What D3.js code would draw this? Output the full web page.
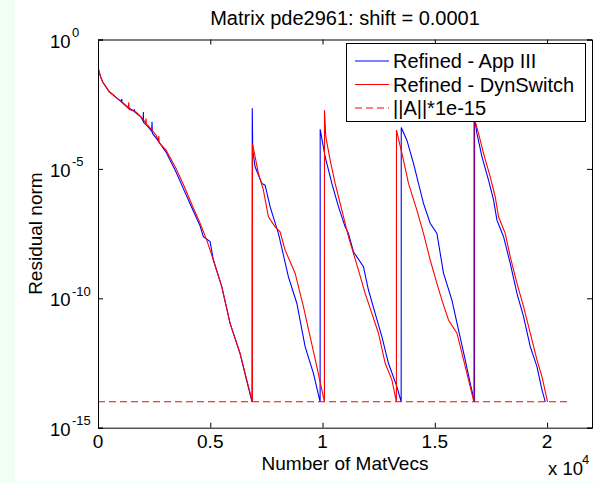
<!DOCTYPE html>
<html><head><meta charset="utf-8">
<script src="https://cdn.jsdelivr.net/npm/d3@7"></script>
<style>body{margin:0;padding:0;overflow:hidden}svg text{font-family:"Liberation Sans",Arial,Helvetica,sans-serif}</style>
</head><body>
<svg id="c" width="596" height="483"></svg>
<script>
// ---- data (x = number of MatVecs, y = log10 residual norm) ----
const titleText = "Matrix pde2961: shift = 0.0001";
const xLabel = "Number of MatVecs";
const yLabel = "Residual norm";
const legendLabels = ["Refined - App III", "Refined - DynSwitch", "||A||*1e-15"];
const xTicks = [0, 5000, 10000, 15000, 20000];
const xTickLabels = ["0", "0.5", "1", "1.5", "2"];
const yTickExps = [0, -5, -10, -15];

const appIII_x = [0,50,120,209,504,949,1040,1056,1075,1395,1600,1620,1640,1916,2010,2019,2030,2215,2390,2406,2420,2584,3030,3476,3846,4220,4545,4692,4991,5138,5512,5882,6328,6626,6860,
  6870,6890,6996,7294,7441,7664,8034,8480,8854,9224,9594,9892,
  9895,10115,10414,10708,11006,11153,11376,11822,12045,12343,12642,12936,13310,13502,
  13505,13756,14050,14495,14794,15093,15387,15761,16055,16354,16577,16768,
  16770,16875,17098,17392,17615,17766,18061,18359,18658,18952,19250,19549,19772,19919];
const appIII_log = [-1.08,-1.25,-1.45,-1.64,-2.02,-2.34,-2.38,-2.30,-2.42,-2.66,-2.76,-2.70,-2.80,-3.00,-3.16,-2.80,-3.20,-3.36,-3.55,-3.18,-3.62,-3.80,-4.35,-5.12,-5.85,-6.58,-7.20,-7.62,-7.81,-8.52,-9.55,-10.97,-12.15,-13.20,-14.0,
  -2.66,-4.27,-4.92,-5.56,-5.63,-6.46,-7.49,-9.17,-10.19,-11.87,-12.90,-14.0,
  -3.47,-4.53,-5.56,-6.46,-7.24,-7.49,-8.20,-8.78,-9.68,-10.58,-11.48,-12.51,-13.41,-14.0,
  -3.40,-3.89,-4.79,-6.33,-7.10,-7.49,-9.03,-10.07,-11.22,-12.38,-13.29,-14.0,
  -3.0,-3.63,-4.53,-5.43,-6.20,-6.98,-7.62,-8.65,-9.81,-10.71,-11.87,-12.64,-13.54,-14.0];

const dyn_x = [0,50,120,209,504,949,1350,1368,1385,1693,1916,2120,2139,2155,2215,2584,2690,2705,2720,3030,3476,3846,4220,4545,4844,5138,5512,5882,6328,6626,6876,
  6880,7143,7366,7589,7887,8110,8333,8778,9148,9447,9745,10084,
  10087,10146,10338,10561,10860,11153,11376,11599,11898,12196,12490,12789,13088,13290,
  13293,13604,13827,14201,14495,14794,15093,15316,15610,15984,16207,16501,16740,
  16743,16947,17169,17468,17691,17838,18136,18359,18658,18952,19250,19549,19772,20021];
const dyn_log = [-1.08,-1.25,-1.45,-1.64,-2.02,-2.34,-2.66,-2.43,-2.70,-2.80,-2.99,-3.22,-3.05,-3.28,-3.31,-3.69,-3.92,-3.73,-3.98,-4.27,-4.98,-5.69,-6.46,-7.10,-7.75,-8.52,-9.55,-10.97,-12.12,-13.15,-14.0,
  -4.02,-5.17,-5.82,-6.85,-7.24,-7.43,-8.14,-9.03,-10.32,-11.48,-12.64,-14.0,
  -2.73,-3.76,-4.66,-5.56,-6.59,-7.62,-8.26,-8.91,-9.81,-10.58,-11.35,-12.51,-13.15,-14.0,
  -3.50,-4.66,-5.56,-6.59,-7.49,-8.52,-9.42,-10.07,-10.84,-11.35,-12.12,-13.15,-14.0,
  -3.0,-3.63,-4.40,-5.31,-6.08,-6.85,-7.49,-8.39,-9.42,-10.32,-11.35,-12.38,-13.03,-14.0];

const normA_x = [0, 21000];
const normA_val = [1e-14, 1e-14];

// ---- drawing ----
const W = 596, H = 483;
const L = 98, R = 592, T = 39.5, B = 427.7;
const svg = d3.select("#c");
svg.append("rect").attr("width", W).attr("height", H).attr("fill", "#f0fff3");
svg.append("rect").attr("x", 15).attr("y", 0).attr("width", W - 15).attr("height", 482).attr("fill", "#ffffff");

const x = d3.scaleLinear().domain([0, 22000]).range([L, R]);
const y = d3.scaleLog().domain([1e-15, 1]).range([B, T]);

svg.append("defs").append("clipPath").attr("id", "clip")
  .append("rect").attr("x", L).attr("y", T).attr("width", R - L).attr("height", B - T);

const g = svg.append("g").attr("clip-path", "url(#clip)");
const line = d3.line().x(d => x(d[0])).y(d => y(d[1]));
const blueData = appIII_x.map((v, i) => [v, Math.pow(10, appIII_log[i])]);
const redData = dyn_x.map((v, i) => [v, Math.pow(10, dyn_log[i])]);
const dashData = normA_x.map((v, i) => [v, normA_val[i]]);

g.append("path").datum(blueData).attr("d", line).attr("fill", "none").attr("stroke", "#0000ff").attr("stroke-width", 1.1);
g.append("path").datum(redData).attr("d", line).attr("fill", "none").attr("stroke", "#ff0000").attr("stroke-width", 1.1);
g.append("path").datum(dashData).attr("d", line).attr("fill", "none").attr("stroke", "#ff0000").attr("stroke-width", 1.1).attr("stroke-dasharray", "7,4");

// axes (ticks inward, MATLAB style)
const xAxB = d3.axisBottom(x).tickValues(xTicks).tickSize(-5).tickFormat("");
const xAxT = d3.axisTop(x).tickValues(xTicks).tickSize(-5).tickFormat("");
const yAxL = d3.axisLeft(y).tickValues(yTickExps.map(e => Math.pow(10, e))).tickSize(-5).tickFormat("");
const yAxR = d3.axisRight(y).tickValues(yTickExps.map(e => Math.pow(10, e))).tickSize(-5).tickFormat("");
[[xAxB, `translate(0,${B})`], [xAxT, `translate(0,${T})`], [yAxL, `translate(${L},0)`], [yAxR, `translate(${R},0)`]].forEach(([ax, tr]) => {
  const a = svg.append("g").attr("transform", tr).call(ax);
  a.select(".domain").attr("stroke", "#000");
  a.selectAll(".tick line").attr("stroke", "#000");
});

// x tick labels
svg.append("g").selectAll("text").data(xTicks).join("text")
  .attr("x", d => x(d)).attr("y", 448).attr("text-anchor", "middle").attr("font-size", 19)
  .text((d, i) => xTickLabels[i]);
// y tick labels 10^e ("10" right-aligned, exponent after it)
yTickExps.forEach(e => {
  const ty = y(Math.pow(10, e));
  svg.append("text").attr("x", 70.5).attr("y", ty + 8).attr("text-anchor", "end").attr("font-size", 18.5).text("10");
  svg.append("text").attr("x", 72).attr("y", ty - 2.5).attr("text-anchor", "start").attr("font-size", 13).text(String(e));
});

// title & labels
svg.append("text").attr("x", (L + R) / 2).attr("y", 25).attr("text-anchor", "middle").attr("font-size", 20).text(titleText);
svg.append("text").attr("x", (L + R) / 2).attr("y", 470).attr("text-anchor", "middle").attr("font-size", 19).text(xLabel);
svg.append("text").attr("transform", `translate(42,${(T + B) / 2}) rotate(-90)`).attr("text-anchor", "middle").attr("font-size", 19).text(yLabel);
svg.append("text").attr("x", 548).attr("y", 475).attr("font-size", 18.5).text("x 10");
svg.append("text").attr("x", 582).attr("y", 464).attr("font-size", 13).text("4");

// legend
const lg = svg.append("g");
lg.append("rect").attr("x", 346.5).attr("y", 43.5).attr("width", 239).attr("height", 78).attr("fill", "#fff").attr("stroke", "#000");
const rows = [{c: "#0000ff", d: null}, {c: "#ff0000", d: null}, {c: "#ff0000", d: "7,4"}];
rows.forEach((r, i) => {
  const cy = 61 + i * 23.5;
  lg.append("line").attr("x1", 355).attr("x2", 389).attr("y1", cy).attr("y2", cy)
    .attr("stroke", r.c).attr("stroke-width", 1.1).attr("stroke-dasharray", r.d);
  lg.append("text").attr("x", 393).attr("y", cy + 7).attr("font-size", 20).text(legendLabels[i]);
});
</script>
</body></html>
